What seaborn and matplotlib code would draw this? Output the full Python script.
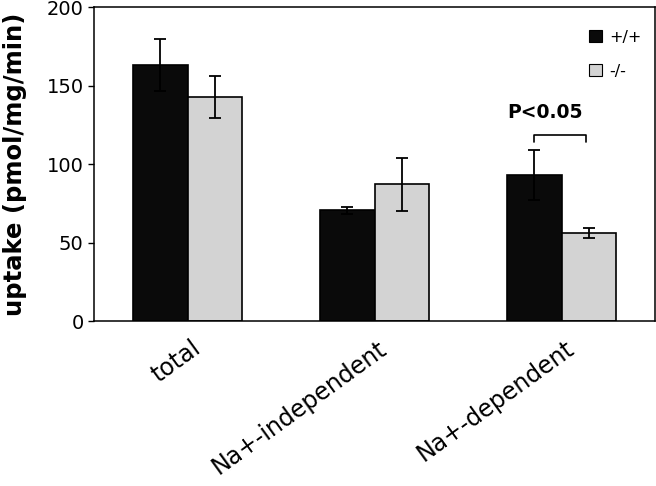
import matplotlib
matplotlib.use('Agg')
import matplotlib.pyplot as plt
import matplotlib.transforms as mtransforms
from matplotlib.patches import Patch
import seaborn as sns
import pandas as pd

categories = ["total", "Na+-independent", "Na+-dependent"]
genotypes = ["+/+", "-/-"]
wt_mean = [163, 70.5, 93]
ko_mean = [142.5, 87, 56]
wt_err = [16.5, 2.3, 16]
ko_err = [13.3, 17, 3]
y_ticks = [0, 50, 100, 150, 200]
y_label = "uptake (pmol/mg/min)"
p_label = "P<0.05"
colors = ["#0a0a0a", "#d3d3d3"]

df = pd.DataFrame({
    "category": categories * 2,
    "genotype": [genotypes[0]] * len(categories) + [genotypes[1]] * len(categories),
    "uptake": wt_mean + ko_mean,
})
errs = [wt_err, ko_err]

sns.set_style("ticks")
plt.rcParams['font.family'] = ['DejaVu Sans']
plt.rcParams.update({
    'text.color': 'black', 'axes.labelcolor': 'black', 'xtick.color': 'black',
    'ytick.color': 'black', 'axes.edgecolor': 'black',
})

fig = plt.figure(figsize=(6.56, 4.86), dpi=100)
ax = fig.add_axes([94 / 656, 1 - 321 / 486, 561 / 656, 314 / 486])

sns.barplot(data=df, x="category", y="uptake", hue="genotype", order=categories,
            hue_order=genotypes, palette=colors, width=0.58, errorbar=None,
            edgecolor="black", linewidth=1.2, ax=ax, legend=False, saturation=1)

for cont, e in zip(ax.containers, errs):
    xs = [b.get_x() + b.get_width() / 2 for b in cont]
    hs = [b.get_height() for b in cont]
    ax.errorbar(xs, hs, yerr=e, fmt='none', ecolor='black', elinewidth=1.3,
                capsize=4.5, capthick=1.3, zorder=5)

# significance bracket on the third group
b0 = ax.containers[0][2]
b1 = ax.containers[1][2]
x0 = b0.get_x() + b0.get_width() / 2
x1 = b1.get_x() + b1.get_width() / 2 - 0.015
ax.plot([x0, x0, x1, x1], [114, 118.4, 118.4, 114], color='black', lw=1.2)
ax.text((x0 + x1) / 2 - 0.08, 133, p_label, ha='center', va='center',
        fontsize=13.5, fontweight='bold')

ax.set_ylim(0, 200)
ax.set_xlim(-0.5, 2.5)
ax.set_yticks(y_ticks)
ax.set_ylabel(y_label, fontsize=17.5, fontweight='bold')
ax.yaxis.set_label_coords(-0.119, 0.5)
ax.set_xlabel("")
ax.tick_params(axis='y', labelsize=14, length=4.5, width=1, pad=3)
ax.tick_params(axis='x', length=0, pad=11)
for lab in ax.get_xticklabels():
    lab.set_rotation(36)
    lab.set_ha('right')
    lab.set_va('top')
    lab.set_rotation_mode('anchor')
    lab.set_fontsize(17)
    lab.set_transform(lab.get_transform() + mtransforms.ScaledTranslation(3 / 100, 0, fig.dpi_scale_trans))

for s in ax.spines.values():
    s.set_linewidth(1.1)
    s.set_visible(True)

handles = [Patch(facecolor=c, edgecolor='black', linewidth=0.8) for c in colors]
ax.legend(handles, genotypes, loc='upper right', bbox_to_anchor=(0.977, 0.928),
          frameon=False, fontsize=11.5, handlelength=0.8, handleheight=0.8,
          handletextpad=0.5, labelspacing=1.2, borderpad=0, borderaxespad=0)

fig.savefig("out.png", dpi=100)
